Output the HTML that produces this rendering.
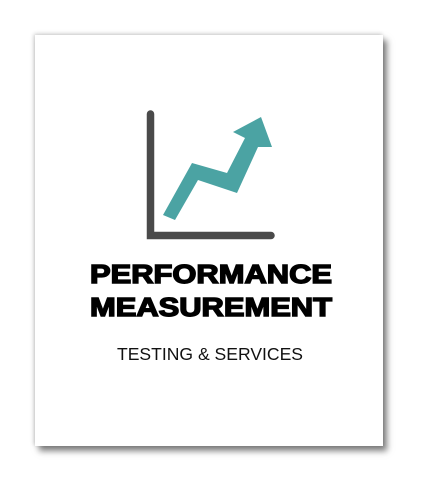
<!DOCTYPE html>
<html><head><meta charset="utf-8"><style>
html,body{margin:0;padding:0;background:#fff;width:424px;height:487px;overflow:hidden}
#card{position:absolute;left:35px;top:35px;width:348px;height:411px;background:#fff;box-shadow:4px 5px 6px rgba(0,0,0,0.5),-1px -1px 4px rgba(0,0,0,0.22)}
svg{position:absolute;left:0;top:0}
</style></head><body>
<div id="card"></div>
<svg width="424" height="487">
  <g>
    <path d="M150.5 114 V235.5 H271" fill="none" stroke="#4a4a4a" stroke-width="7.5" stroke-linecap="round" stroke-linejoin="miter"/>
    <polygon points="163,215 192,163 227,173 245,138 233,132 261,117 272,147 258,147 237,193 198,180 175,220" fill="#4ba3a3"/>
  </g>
  <text x="90" y="283" textLength="242" lengthAdjust="spacingAndGlyphs" font-family="Liberation Sans, sans-serif" font-weight="bold" font-size="25.5" fill="#000" stroke="#000" stroke-width="1.4">PERFORMANCE</text>
  <text x="90" y="316" textLength="242" lengthAdjust="spacingAndGlyphs" font-family="Liberation Sans, sans-serif" font-weight="bold" font-size="25.5" fill="#000" stroke="#000" stroke-width="1.4">MEASUREMENT</text>
  <text x="117" y="360" textLength="186" lengthAdjust="spacingAndGlyphs" font-family="Liberation Sans, sans-serif" font-size="17.5" fill="#111">TESTING &amp; SERVICES</text>
</svg>
</body></html>
